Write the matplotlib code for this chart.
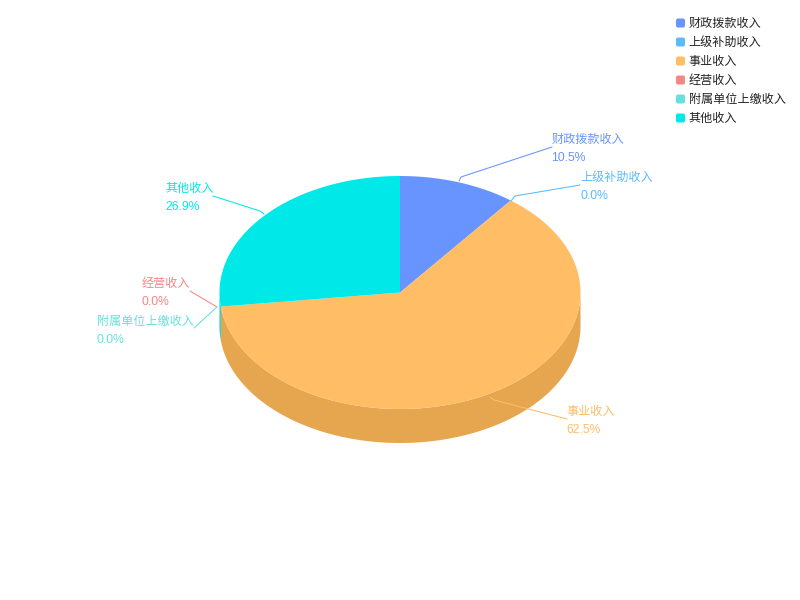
import numpy as np
import matplotlib
matplotlib.use("Agg")
import matplotlib.pyplot as plt
from matplotlib.patches import FancyBboxPatch, Polygon

plt.rcParams["font.family"] = ["Liberation Sans", "Noto Sans CJK SC"]

# -----------------------------------------------------------------------
# Data
# -----------------------------------------------------------------------
categories = ["财政拨款收入", "上级补助收入", "事业收入", "经营收入", "附属单位上缴收入", "其他收入"]
values = [10.5, 0.0, 62.5, 0.0, 0.0, 26.9]
percent_labels = ["10.5%", "0.0%", "62.5%", "0.0%", "0.0%", "26.9%"]

# -----------------------------------------------------------------------
# Styles and layout (pixels, origin top left)
# -----------------------------------------------------------------------
colors = ["#6794FF", "#5CBAFF", "#FFBD66", "#F98585", "#66E0DC", "#00E8E8"]
side_colors = ["#5D85E6", "#53A7E6", "#E5A64F", "#E07878", "#5CCAC6", "#00D1D1"]
CX, CY = 400, 292.5
RX, RY = 180.5, 116.5
DEPTH = 34

# leader line: (start on pie, bend, end at label)
leaders = [
    [(459, 181), (461, 177), (552, 147)],
    [(511, 201), (515, 196), (580, 185)],
    [(490, 397), (494, 400), (567, 419)],
    [(217, 307), (217, 307), (190, 291)],
    [(217, 307), (217, 307), (194, 328)],
    [(264, 214), (260, 211), (213, 196)],
]
# label x, alignment, name y, value y
label_pos = [
    (551.5, "left", 139.5, 158),
    (580.5, "left", 177.5, 196),
    (566.5, "left", 411.5, 430),
    (141.5, "left", 283.5, 302),
    (96.5, "left", 321.5, 340),
    (165.5, "left", 188.5, 207),
]
legend_y = [24, 43, 62, 81, 100, 119]


def ellipse_points(start, end, dy=0.0):
    """Points on the ellipse, angles in degrees clockwise from the top."""
    t = np.radians(np.linspace(start, end, max(int(abs(end - start)) * 2, 2)))
    return np.column_stack([CX + RX * np.sin(t), CY + dy - RY * np.cos(t)])


fig = plt.figure(figsize=(8, 6), dpi=100, facecolor="white")
ax = fig.add_axes([0, 0, 1, 1])
ax.set_xlim(0, 800)
ax.set_ylim(600, 0)
ax.axis("off")

# angles from the values, the last slice closes the circle
total = sum(values)
edges = np.concatenate([[0], np.cumsum(values)]) / total * 360

# ---- Side walls (only the lower half of the rim shows) ----
for i in range(len(values)):
    a0, a1 = max(edges[i], 90), min(edges[i + 1], 270)
    if a1 <= a0:
        continue
    top = ellipse_points(a0, a1)
    bottom = ellipse_points(a0, a1, DEPTH)
    ax.add_patch(Polygon(np.vstack([top, bottom[::-1]]), closed=True,
                         facecolor=side_colors[i], edgecolor="none", zorder=2))

# ---- Top face ----
for i in range(len(values)):
    if values[i] == 0:
        continue
    pts = np.vstack([[(CX, CY)], ellipse_points(edges[i], edges[i + 1])])
    ax.add_patch(Polygon(pts, closed=True, facecolor=colors[i], edgecolor="none", zorder=3))

# ---- Labels and leader lines ----
for i, cat in enumerate(categories):
    xs, ys = zip(*leaders[i])
    ax.plot(xs, ys, color=colors[i], lw=0.75, zorder=4, solid_capstyle="round")
    x, ha, y1, y2 = label_pos[i]
    ax.text(x, y1, cat, color=colors[i], fontsize=8.7, ha=ha, va="center", zorder=5)
    ax.text(x, y2, percent_labels[i], color=colors[i], fontsize=8.7, ha=ha, va="center", zorder=5)

# ---- Legend ----
for i, cat in enumerate(categories):
    ax.add_patch(FancyBboxPatch((677, legend_y[i] - 4.5), 7, 7,
                                boxstyle="round,pad=1,rounding_size=2",
                                facecolor=colors[i], edgecolor="none", zorder=5))
    ax.text(688.5, legend_y[i], cat, color="#222222", fontsize=8.7, ha="left", va="center", zorder=5)

fig.savefig("out.png", dpi=100, facecolor="white")
plt.close(fig)
